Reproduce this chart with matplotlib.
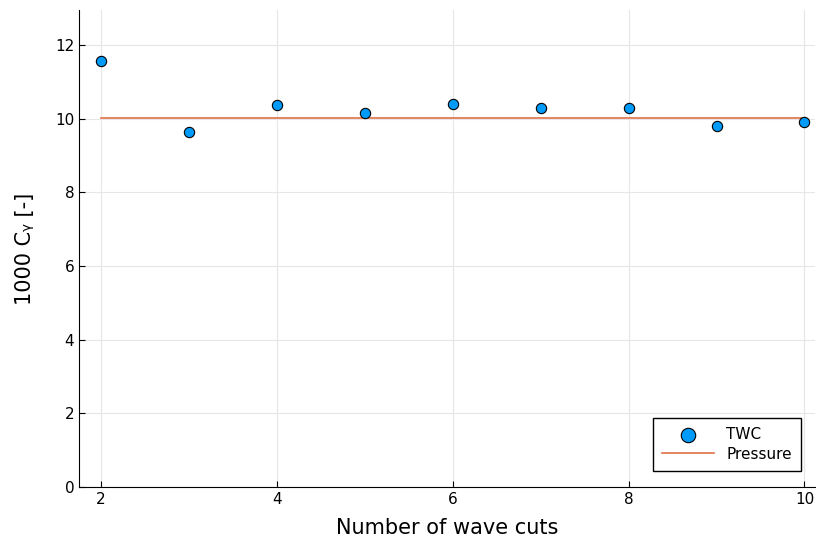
import matplotlib
matplotlib.use("Agg")
import matplotlib.pyplot as plt

# datos
n_cortes = [2, 3, 4, 5, 6, 7, 8, 9, 10]
cy_twc = [11.57, 9.64, 10.37, 10.15, 10.39, 10.29, 10.28, 9.79, 9.91]
cy_presion = 10.02
yticks = [0, 2, 4, 6, 8, 10, 12]
xticks = [2, 4, 6, 8, 10]

fig = plt.figure(figsize=(8.16, 5.42), dpi=100)
ax = fig.add_axes([0.0968, 0.1015, 0.902, 0.88])

ax.scatter(n_cortes, cy_twc, s=55, color="#009af9", edgecolor="black",
           linewidth=0.8, zorder=3, label="TWC")
ax.plot([n_cortes[0], n_cortes[-1]], [cy_presion, cy_presion],
        color="#e26f46", linewidth=1.2, zorder=2, label="Pressure")

ax.set_xlim(1.75, 10.12)
ax.set_ylim(0, 12.95)
ax.set_xticks(xticks)
ax.set_yticks(yticks)
ax.grid(True, color="#e6e6e6", linewidth=0.8)
ax.set_axisbelow(True)
for lado in ["top", "right"]:
    ax.spines[lado].set_visible(False)
ax.tick_params(direction="in", length=4, labelsize=11)

ax.set_xlabel("Number of wave cuts", fontsize=15, labelpad=8)
ax.set_ylabel("1000 Cᵧ [-]", fontsize=15, labelpad=14)

ax.legend(loc="lower right", bbox_to_anchor=(0.981, 0.0335), borderaxespad=0,
          fontsize=11, fancybox=False, edgecolor="black", framealpha=1,
          borderpad=0.6, labelspacing=0.3, handlelength=3.4, markerscale=1.4)

plt.savefig("out.png", dpi=100)
plt.close()
